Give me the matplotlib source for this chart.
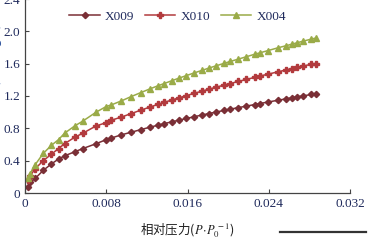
import matplotlib
matplotlib.use("Agg")
import matplotlib.pyplot as plt
from matplotlib.lines import Line2D

# relative pressure (same sampling for the three samples)
p = [0.0003, 0.0005, 0.0010, 0.0018, 0.0026, 0.0033, 0.0039, 0.0049, 0.0057,
     0.0070, 0.0080, 0.0085, 0.0095, 0.0104, 0.0114, 0.0123, 0.0131, 0.0137,
     0.0145, 0.0152, 0.0159, 0.0166, 0.0174, 0.0181, 0.0188, 0.0196, 0.0202,
     0.0210, 0.0218, 0.0226, 0.0231, 0.0239, 0.0249, 0.0257, 0.0263, 0.0268,
     0.0274, 0.0282, 0.0287]

x009 = [0.08, 0.13, 0.18, 0.28, 0.36, 0.42, 0.46, 0.51, 0.55, 0.61, 0.66, 0.68,
        0.72, 0.75, 0.784, 0.814, 0.839, 0.858, 0.882, 0.902, 0.922, 0.942,
        0.964, 0.983, 1.001, 1.022, 1.037, 1.056, 1.075, 1.094, 1.106, 1.125,
        1.147, 1.165, 1.178, 1.189, 1.202, 1.219, 1.23]

x010 = [0.16, 0.21, 0.30, 0.40, 0.48, 0.55, 0.61, 0.69, 0.74, 0.83, 0.87, 0.90,
        0.94, 0.98, 1.025, 1.063, 1.097, 1.121, 1.152, 1.179, 1.205, 1.231,
        1.259, 1.284, 1.308, 1.335, 1.354, 1.380, 1.405, 1.430, 1.446, 1.469,
        1.499, 1.522, 1.540, 1.553, 1.571, 1.593, 1.60]

x004 = [0.18, 0.24, 0.35, 0.49, 0.59, 0.66, 0.74, 0.83, 0.89, 1.00, 1.07, 1.09,
        1.14, 1.19, 1.242, 1.288, 1.327, 1.354, 1.391, 1.423, 1.453, 1.483,
        1.516, 1.545, 1.573, 1.604, 1.627, 1.656, 1.686, 1.716, 1.733, 1.761,
        1.796, 1.822, 1.842, 1.859, 1.879, 1.904, 1.919]

xticks = [0, 0.008, 0.016, 0.024, 0.032]
xticklabels = ["0", "0.008", "0.016", "0.024", "0.032"]
yticks = [0, 0.4, 0.8, 1.2, 1.6, 2.0, 2.4]
yticklabels = ["0", "0.4", "0.8", "1.2", "1.6", "2.0", "2.4"]

navy = "#1f2a5c"
plt.rcParams["font.family"] = ["Liberation Serif", "Noto Sans CJK SC", "DejaVu Sans"]
plt.rcParams["mathtext.fontset"] = "stix"

fig = plt.figure(figsize=(3.74, 2.46), dpi=100)
ax = fig.add_axes([25 / 374, 53 / 246, 325 / 374, 194 / 246])

ax.plot(p, x009, color="#7a2f36", lw=1.1, marker="D", ms=3.2, label="X009")
ax.plot(p, x010, color="#b23a3d", lw=1.1, marker="P", ms=4.0, label="X010")
ax.plot(p, x004, color="#9aab48", lw=1.1, marker="^", ms=4.2, label="X004")

ax.set_xlim(0, 0.032)
ax.set_ylim(0, 2.4)
ax.set_xticks(xticks)
ax.set_xticklabels(xticklabels)
ax.set_yticks(yticks)
ax.set_yticklabels(yticklabels)
ax.tick_params(direction="in", length=3, width=0.8, labelsize=9.5, colors="#444444",
               labelcolor=navy)
for s in ["top", "right"]:
    ax.spines[s].set_visible(False)
for s in ["left", "bottom"]:
    ax.spines[s].set_color("#444444")
    ax.spines[s].set_linewidth(0.9)

ax.set_xlabel("相对压力($P\\!\\cdot\\! P_0^{\\,-1}$)", fontsize=9, color="#222222",
              family=["Noto Sans CJK SC", "DejaVu Sans"], labelpad=8)
ax.set_ylabel("吸附量/(cm$^3$·g$^{-1}$)", fontsize=9, color="#2a4f9a",
              family=["Noto Sans CJK SC", "DejaVu Sans"])
ax.yaxis.set_label_coords(-0.062, 0.6)

leg = ax.legend(loc="upper left", bbox_to_anchor=(0.1, 1.0), ncol=3, frameon=False,
                fontsize=9.5, handlelength=2.3, columnspacing=0.8, handletextpad=0.4)
for t in leg.get_texts():
    t.set_color(navy)

fig.add_artist(Line2D([280 / 374, 366 / 374], [1 - 232 / 246] * 2,
                      color="#333333", lw=1.6))

fig.savefig("out.png", dpi=100)
